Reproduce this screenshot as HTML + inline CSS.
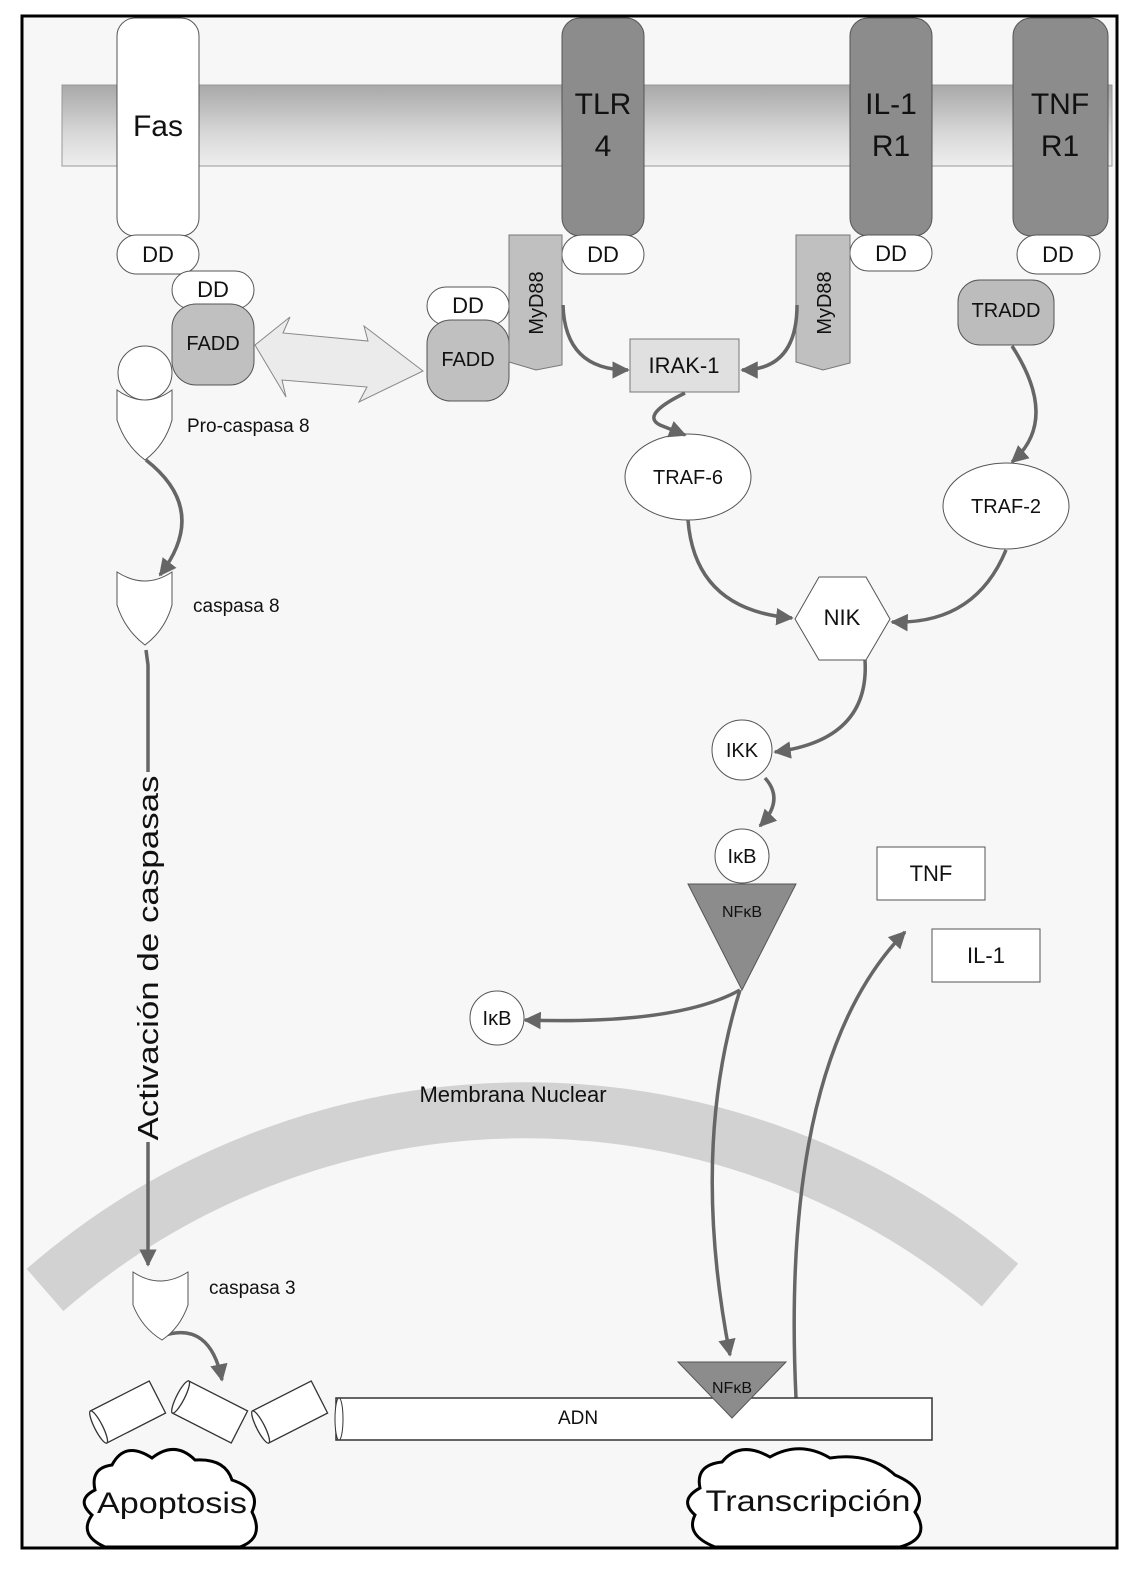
<!DOCTYPE html>
<html><head><meta charset="utf-8"><style>
html,body{margin:0;padding:0;background:#fff}
svg{display:block}
text{font-family:"Liberation Sans",sans-serif;fill:#111}
</style></head><body>
<svg width="1134" height="1569" viewBox="0 0 1134 1569" xmlns="http://www.w3.org/2000/svg">
<defs>
<linearGradient id="mem" x1="0" y1="0" x2="0" y2="1">
<stop offset="0" stop-color="#a8a8a8"/><stop offset="0.6" stop-color="#d8d8d8"/><stop offset="1" stop-color="#eeeeee"/>
</linearGradient>
<marker id="ah" viewBox="0 0 10 10" refX="9" refY="5" markerWidth="5" markerHeight="5" orient="auto-start-reverse">
<path d="M0,0 L10,5 L0,10 z" fill="#666"/></marker>
</defs>
<rect x="0" y="0" width="1134" height="1569" fill="#fff"/>
<rect x="22" y="16" width="1095" height="1532" fill="#f7f7f7" stroke="#000" stroke-width="3"/>

<rect x="62" y="85" width="1050" height="81" fill="url(#mem)" stroke="#999" stroke-width="1"/>

<rect x="117" y="18" width="82" height="218" rx="18" fill="#fff" stroke="#555"/>
<text x="158" y="136" font-size="30" text-anchor="middle">Fas</text>
<rect x="562" y="18" width="82" height="218" rx="18" fill="#8c8c8c" stroke="#555"/>
<text x="603" y="114" font-size="30" text-anchor="middle">TLR</text>
<text x="603" y="156" font-size="30" text-anchor="middle">4</text>
<rect x="850" y="18" width="82" height="218" rx="18" fill="#8c8c8c" stroke="#555"/>
<text x="891" y="114" font-size="30" text-anchor="middle">IL-1</text>
<text x="891" y="156" font-size="30" text-anchor="middle">R1</text>
<rect x="1013" y="18" width="95" height="218" rx="18" fill="#8c8c8c" stroke="#555"/>
<text x="1060" y="114" font-size="30" text-anchor="middle">TNF</text>
<text x="1060" y="156" font-size="30" text-anchor="middle">R1</text>

<g fill="#fff" stroke="#555">
<rect x="117" y="235" width="82" height="39" rx="19.5"/>
<rect x="562" y="235" width="82" height="39" rx="19.5"/>
<rect x="850" y="235" width="82" height="36" rx="18"/>
<rect x="1017" y="235" width="83" height="39" rx="19.5"/>
<rect x="172" y="271" width="82" height="38" rx="19"/>
<rect x="427" y="287" width="82" height="38" rx="19"/>
</g>
<g font-size="22" text-anchor="middle">
<text x="158" y="262">DD</text><text x="603" y="262">DD</text>
<text x="891" y="261">DD</text><text x="1058" y="262">DD</text>
<text x="213" y="297">DD</text><text x="468" y="313">DD</text>
</g>

<rect x="172" y="304" width="82" height="81" rx="24" fill="#c0c0c0" stroke="#555"/>
<text x="213" y="350" font-size="20" text-anchor="middle">FADD</text>
<rect x="427" y="320" width="82" height="81" rx="24" fill="#c0c0c0" stroke="#555"/>
<text x="468" y="366" font-size="20" text-anchor="middle">FADD</text>

<path d="M255,345 L290,317 L283,333 L368,341 L364,326 L423,371 L359,402 L367,387 L282,380 L286,397 Z" fill="#ebebeb" stroke="#888"/>

<path d="M509,235 L562,235 L562,365 L536,370 L509,362 Z" fill="#c0c0c0" stroke="#777"/>
<text transform="translate(543,303) rotate(-90)" font-size="20" text-anchor="middle">MyD88</text>
<path d="M796,235 L850,235 L850,363 L823,370 L796,362 Z" fill="#c0c0c0" stroke="#777"/>
<text transform="translate(831,303) rotate(-90)" font-size="20" text-anchor="middle">MyD88</text>

<rect x="958" y="280" width="96" height="65" rx="22" fill="#bcbcbc" stroke="#555"/>
<text x="1006" y="317" font-size="20" text-anchor="middle">TRADD</text>

<rect x="630" y="339" width="109" height="53" fill="#e0e0e0" stroke="#777"/>
<text x="684" y="373" font-size="22" text-anchor="middle">IRAK-1</text>

<circle cx="145" cy="373" r="27" fill="#fff" stroke="#555"/>
<path d="M117,390 Q145,410 172,390 L172,420 Q165,445 145,460 Q125,445 117,420 Z" fill="#fff" stroke="#555"/>
<text x="187" y="432" font-size="19">Pro-caspasa 8</text>
<path d="M117,572 Q145,590 172,572 L172,605 Q165,630 145,645 Q125,630 117,605 Z" fill="#fff" stroke="#555"/>
<text x="193" y="612" font-size="19">caspasa 8</text>

<ellipse cx="688" cy="477" rx="63" ry="43" fill="#fff" stroke="#555"/>
<text x="688" y="484" font-size="20" text-anchor="middle">TRAF-6</text>
<ellipse cx="1006" cy="506" rx="63" ry="43" fill="#fff" stroke="#555"/>
<text x="1006" y="513" font-size="20" text-anchor="middle">TRAF-2</text>
<polygon points="819,577 866,577 890,619 866,660 819,660 795,619" fill="#fff" stroke="#555"/>
<text x="842" y="625" font-size="22" text-anchor="middle">NIK</text>
<circle cx="742" cy="750" r="30" fill="#fff" stroke="#555"/>
<text x="742" y="757" font-size="20" text-anchor="middle">IKK</text>

<!-- nuclear membrane -->
<path d="M45,1290 A732,732 0 0 1 1000,1285" fill="none" stroke="#d2d2d2" stroke-width="56"/>

<g fill="none" stroke="#666" stroke-width="3.5" marker-end="url(#ah)">
<path d="M563,305 Q565,370 628,370"/>
<path d="M797,305 Q797,370 742,370"/>
<path d="M685,393 Q640,415 660,425 L685,435"/>
<path d="M1012,346 Q1060,420 1012,462"/>
<path d="M688,520 Q695,610 792,618"/>
<path d="M1006,550 Q975,625 892,622"/>
<path d="M865,660 Q870,740 775,752"/>
<path d="M765,778 Q785,800 760,826"/>
<path d="M146,460 Q210,510 160,575"/>
<path d="M740,990 Q677,1025 525,1020"/>
<path d="M740,990 Q690,1150 730,1355"/>
<path d="M796,1398 Q780,1060 905,932"/>
<path d="M162,1336 Q210,1320 222,1380"/>
<path d="M146,650 L148,665 L148,1265"/>
</g>
<text x="513" y="1102" font-size="22" text-anchor="middle">Membrana Nuclear</text>

<circle cx="742" cy="856" r="27" fill="#fff" stroke="#555"/>
<text x="742" y="863" font-size="20" text-anchor="middle">IκB</text>
<polygon points="688,884 796,884 742,990" fill="#8c8c8c" stroke="#555"/>
<text x="742" y="917" font-size="16" text-anchor="middle">NFκB</text>
<circle cx="497" cy="1018" r="27" fill="#fff" stroke="#555"/>
<text x="497" y="1025" font-size="20" text-anchor="middle">IκB</text>

<rect x="877" y="847" width="108" height="53" fill="#fff" stroke="#555"/>
<text x="931" y="881" font-size="22" text-anchor="middle">TNF</text>
<rect x="932" y="929" width="108" height="53" fill="#fff" stroke="#555"/>
<text x="986" y="963" font-size="22" text-anchor="middle">IL-1</text>

<rect x="132" y="772" width="32" height="370" fill="#f7f7f7"/>
<text transform="translate(158,958) rotate(-90)" font-size="29" text-anchor="middle" textLength="365" lengthAdjust="spacingAndGlyphs">Activación de caspasas</text>

<path d="M133,1272 Q160,1290 188,1272 L188,1305 Q180,1328 162,1340 Q142,1328 133,1305 Z" fill="#fff" stroke="#555"/>
<text x="209" y="1294" font-size="19">caspasa 3</text>

<!-- DNA -->
<rect x="336" y="1398" width="596" height="42" fill="#fff" stroke="#333" stroke-width="1.5"/>
<ellipse cx="339" cy="1419" rx="4" ry="21" fill="#fff" stroke="#333"/>
<text x="578" y="1424" font-size="19" text-anchor="middle">ADN</text>
<polygon points="678,1362 786,1362 732,1418" fill="#8c8c8c" stroke="#555"/>
<text x="732" y="1393" font-size="16" text-anchor="middle">NFκB</text>

<g fill="#fff" stroke="#333" stroke-width="1.3">
<g transform="translate(128,1412) rotate(-27)"><rect x="-33" y="-18" width="66" height="36"/><ellipse cx="-33" cy="0" rx="4" ry="18"/></g>
<g transform="translate(210,1412) rotate(27)"><rect x="-33" y="-18" width="66" height="36"/><ellipse cx="-33" cy="0" rx="4" ry="18"/></g>
<g transform="translate(290,1412) rotate(-27)"><rect x="-33" y="-18" width="66" height="36"/><ellipse cx="-33" cy="0" rx="4" ry="18"/></g>
</g>

<!-- clouds -->
<g fill="#fff" stroke="#000" stroke-width="3">
<path d="M95,1490 Q90,1468 112,1465 Q125,1440 152,1458 Q175,1440 195,1460 Q225,1458 232,1480 Q262,1490 252,1512 Q265,1538 240,1547 L105,1547 Q78,1535 92,1515 Q75,1500 95,1490 Z"/>
<path d="M700,1488 Q695,1465 722,1462 Q740,1440 770,1457 Q800,1440 830,1458 Q870,1452 895,1475 Q930,1490 915,1512 Q932,1538 900,1547 L715,1547 Q685,1535 695,1515 Q678,1500 700,1488 Z"/>
</g>
<text x="172" y="1513" font-size="30" text-anchor="middle" textLength="150" lengthAdjust="spacingAndGlyphs">Apoptosis</text>
<text x="808" y="1511" font-size="30" text-anchor="middle" textLength="205" lengthAdjust="spacingAndGlyphs">Transcripción</text>
</svg>
</body></html>
